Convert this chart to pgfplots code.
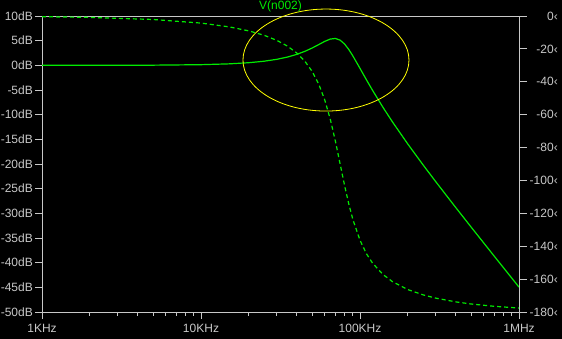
\documentclass[border=0pt]{standalone}
\usepackage{fontspec}
\setmainfont{Liberation Sans}
\usepackage{pgfplots}
\pgfplotsset{compat=1.18}
\definecolor{lsgray}{RGB}{200,200,200}
\definecolor{lsgreen}{RGB}{0,235,0}
\definecolor{lsyellow}{RGB}{255,255,0}
\begin{document}
\begin{tikzpicture}
\useasboundingbox (0,0) rectangle (562pt,339pt);
\fill[black] (0,0) rectangle (562pt,339pt);
\begin{axis}[
  at={(42pt,27pt)}, anchor=south west,
  scale only axis, width=477pt, height=296pt,
  xmode=log, xmin=1000, xmax=1000000,
  ymin=-50, ymax=10,
  axis line style={lsgray, line width=0.8pt},
  every tick/.style={lsgray, line width=0.8pt},
  tick align=outside, major tick length=7pt, minor tick length=4pt,
  xtick pos=bottom, ytick pos=left,
  xtick={1000,10000,100000,1000000},
  xticklabels={1KHz,10KHz,100KHz,1MHz},
  minor xtick={2000,3000,4000,5000,6000,7000,8000,9000,20000,30000,40000,50000,60000,70000,80000,90000,200000,300000,400000,500000,600000,700000,800000,900000},
  ytick={-50,-45,-40,-35,-30,-25,-20,-15,-10,-5,0,5,10},
  yticklabels={-50dB,-45dB,-40dB,-35dB,-30dB,-25dB,-20dB,-15dB,-10dB,-5dB,0dB,5dB,10dB},
  tick label style={lsgray, font=\fontsize{12pt}{14pt}\selectfont, inner sep=0pt},
  yticklabel style={anchor=east, xshift=-2pt},
  xticklabel style={anchor=base, yshift=-14pt},
  clip=false,
]
\addplot[lsgreen, line width=1.2pt] coordinates {
(1000,0.00) (2000,0.005) (5000,0.033) (10000,0.131) (15000,0.297) (20000,0.532) (25000,0.839)
(30000,1.221) (35000,1.681) (40000,2.220) (45000,2.834) (50000,3.509) (55000,4.206)
(60000,4.853) (65000,5.320) (70000,5.444) (75000,5.105) (80000,4.316) (85000,3.212)
(90000,1.952) (100000,-0.621) (110000,-2.986) (120000,-5.083) (140000,-8.602)
(160000,-11.466) (200000,-15.970) (250000,-20.239) (300000,-23.616) (400000,-28.819)
(500000,-32.790) (700000,-38.717) (1000000,-44.956)
};
\draw[lsyellow, line width=0.8pt] (axis cs:61100,1.07) ellipse [x radius=83pt, y radius=51pt];
\node[text=lsgreen, anchor=base, inner sep=0pt, font=\fontsize{12pt}{14pt}\selectfont] at ([yshift=6pt]rel axis cs:0.5,1) {V(n002)};
\end{axis}
\begin{axis}[
  at={(42pt,27pt)}, anchor=south west,
  scale only axis, width=477pt, height=296pt,
  xmode=log, xmin=1000, xmax=1000000,
  ymin=-180, ymax=0,
  axis x line=none, axis y line*=right,
  axis line style={lsgray, line width=0.8pt},
  every tick/.style={lsgray, line width=0.8pt},
  tick align=outside, major tick length=8pt,
  ytick={-180,-160,-140,-120,-100,-80,-60,-40,-20,0},
  yticklabels={-180‹,-160‹,-140‹,-120‹,-100‹,-80‹,-60‹,-40‹,-20‹,0‹},
  tick label style={lsgray, font=\fontsize{12pt}{14pt}\selectfont, inner sep=0pt},
  yticklabel style={anchor=east, xshift=31pt},
]
\addplot[lsgreen, line width=1.2pt, dash pattern=on 4pt off 3pt] coordinates {
(1000,-0.42) (2000,-0.85) (5000,-2.13) (10000,-4.31) (15000,-6.60) (20000,-9.06) (25000,-11.77)
(30000,-14.82) (35000,-18.34) (40000,-22.49) (45000,-27.51) (50000,-33.69) (55000,-41.39)
(60000,-50.99) (65000,-62.67) (70000,-76.04) (75000,-90.00) (80000,-103.09) (85000,-114.31)
(90000,-123.42) (100000,-136.40) (110000,-144.70) (120000,-150.33) (140000,-157.34)
(160000,-161.55) (200000,-166.37) (250000,-169.62) (300000,-171.57) (400000,-173.84)
(500000,-175.13) (700000,-176.55) (1000000,-177.60)
};
\end{axis}
\end{tikzpicture}
\end{document}
